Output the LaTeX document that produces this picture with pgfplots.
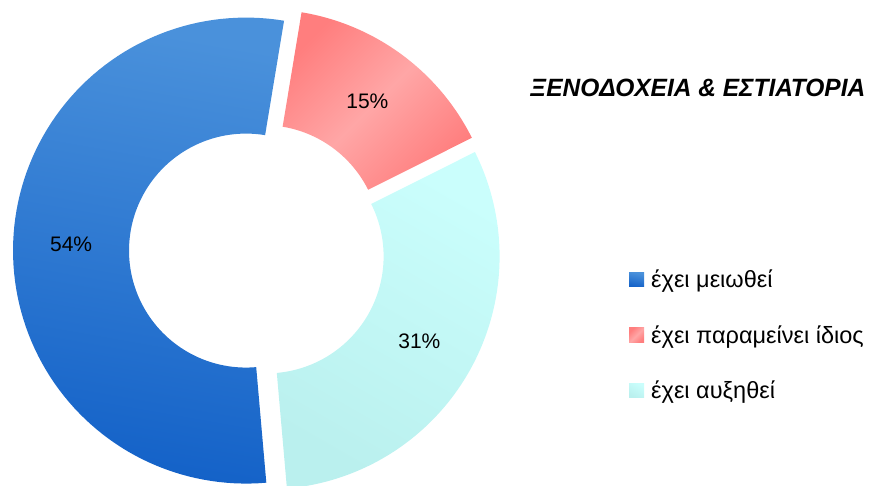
\documentclass[border=0pt]{standalone}
\usepackage{graphicx}
\usepackage{pgfplots}
\pgfplotsset{compat=1.18}
\usepackage{pgfplotstable}
\usepackage{fontspec}
\setmainfont{Liberation Sans}
\definecolor{bluA}{HTML}{4A91DB}
\definecolor{bluB}{HTML}{1462C8}
\definecolor{redA}{HTML}{FF7E7E}
\definecolor{redB}{HTML}{FFA6A6}
\definecolor{cyaA}{HTML}{CAFEFC}
\definecolor{cyaB}{HTML}{BAF0EE}

\pgfplotstableread[col sep=comma]{
cat,val
1,54
2,15
3,31
}\piedata

\begin{document}
\begin{tikzpicture}
\useasboundingbox (0,0) rectangle (875bp,486bp);
\pgfplotstablegetelem{0}{val}\of\piedata \let\vA\pgfplotsretval
\pgfplotstablegetelem{1}{val}\of\piedata \let\vB\pgfplotsretval
\pgfplotstablegetelem{2}{val}\of\piedata \let\vC\pgfplotsretval
\pgfmathsetmacro\tot{\vA+\vB+\vC}
\def\Cx{257}\def\Cy{235}\def\Ro{233}\def\Ri{117}\def\dd{11}
\pgfmathsetmacro\aA{-85}
\pgfmathsetmacro\aB{\aA-360*(\vA/\tot)}
\pgfmathsetmacro\aC{\aB-360*(\vB/\tot)}
\pgfmathsetmacro\aD{\aC-360*(\vC/\tot)}
\pgfmathsetmacro\Rm{\dd+(\Ro+\Ri)/2}
\pgfmathsetmacro\lAx{\Cx+\Rm*cos((\aA+\aB)/2)}
\pgfmathsetmacro\lAy{\Cy+\Rm*sin((\aA+\aB)/2)}
\pgfmathsetmacro\lBx{\Cx+\Rm*cos((\aB+\aC)/2)}
\pgfmathsetmacro\lBy{\Cy+\Rm*sin((\aB+\aC)/2)}
\pgfmathsetmacro\lCx{\Cx+\Rm*cos((\aC+\aD)/2)}
\pgfmathsetmacro\lCy{\Cy+\Rm*sin((\aC+\aD)/2)}
\newcommand\slice[3]{%
\addplot[draw=none, #3, samples at={0,1,...,201}, variable=\t]
 ({\Cx+\dd*cos((#1+#2)/2)+((\t<=100)*\Ro+(\t>100)*\Ri)*cos((\t<=100)*(#1+(#2-#1)*\t/100)+(\t>100)*(#2+(#1-#2)*(\t-101)/100))},
  {\Cy+\dd*sin((#1+#2)/2)+((\t<=100)*\Ro+(\t>100)*\Ri)*sin((\t<=100)*(#1+(#2-#1)*\t/100)+(\t>100)*(#2+(#1-#2)*(\t-101)/100))});
}
\begin{axis}[x=1bp, y=1bp, xmin=0, xmax=875, ymin=0, ymax=486,
  hide axis, clip=true,
  legend style={at={(axis cs:629,216)}, anchor=north west, draw=none, fill=none,
    font=\fontsize{23.5bp}{27bp}\selectfont, row sep=36bp, inner sep=0pt,
    legend cell align=left,
    nodes={inner sep=0pt, outer sep=0pt},
    /tikz/every odd column/.append style={column sep=7bp}},
  legend image code/.code={\path[#1] (0bp,-7bp) rectangle (15bp,7bp);}
]
\slice{\aA}{\aB}{top color=bluA, bottom color=bluB, shading angle=-10}
\addlegendentry{έχει μειωθεί}
\slice{\aB}{\aC}{left color=redA, right color=redA, middle color=redB, shading angle=45}
\addlegendentry{έχει παραμείνει ίδιος}
\slice{\aC}{\aD}{left color=cyaA, right color=cyaB, shading angle=-30}
\addlegendentry{έχει αυξηθεί}
\node[font=\fontsize{21bp}{25bp}\selectfont] at (axis cs:\lAx,\lAy) {\vA\%};
\node[font=\fontsize{21bp}{25bp}\selectfont] at (axis cs:\lBx,\lBy) {\vB\%};
\node[font=\fontsize{21bp}{25bp}\selectfont] at (axis cs:\lCx,\lCy) {\vC\%};
\node[font=\bfseries\itshape\fontsize{25bp}{30bp}\selectfont, anchor=west, inner sep=0pt] at (axis cs:530,398.5) {\scalebox{0.98}[1]{ΞΕΝΟΔΟΧΕΙΑ \& ΕΣΤΙΑΤΟΡΙΑ}};
\end{axis}
\end{tikzpicture}
\end{document}
